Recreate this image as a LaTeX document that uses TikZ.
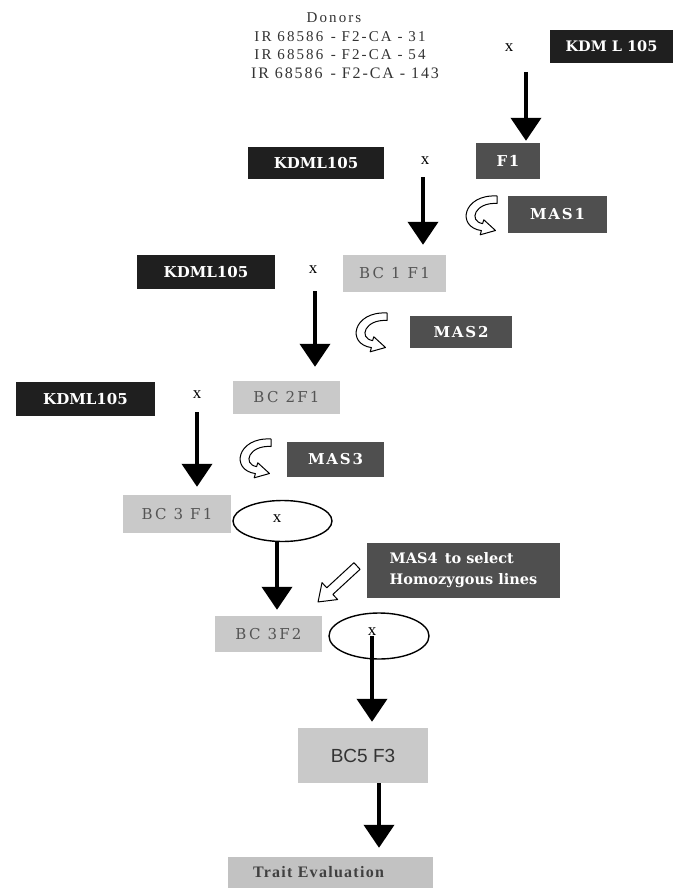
\documentclass[tikz,border=0pt]{standalone}
\usepackage{fontspec}
\setmainfont{Liberation Serif}
\newfontfamily\boxfont{DejaVu Serif}
\newfontfamily\sansfnt{Liberation Sans}
\usetikzlibrary{arrows.meta,shapes.geometric}
\definecolor{darkA}{gray}{0.12}
\definecolor{darkB}{gray}{0.31}
\definecolor{lightA}{gray}{0.79}
\definecolor{lightB}{gray}{0.76}
\definecolor{ltxt}{gray}{0.33}
\begin{document}
\begin{tikzpicture}[x=1pt,y=-1pt,
  box/.style 2 args={rectangle, inner sep=0pt, minimum width=#1pt, minimum height=#2pt},
  kdml/.style={fill=darkA, text=white, font={\boxfont\bfseries\fontsize{15}{17}\selectfont}},
  darkbox/.style={fill=darkB, text=white, font={\boxfont\bfseries\fontsize{15}{17}\selectfont\addfontfeature{LetterSpace=12}}},
  bc/.style={fill=lightA, text=ltxt, font={\boxfont\fontsize{15}{17}\selectfont\addfontfeature{LetterSpace=15}}},
  donor/.style={inner sep=0pt, text=black!80, font={\fontsize{15}{17}\selectfont\addfontfeature{LetterSpace=14}}},
  crossx/.style={inner sep=0pt, font={\fontsize{17}{19}\selectfont}},
  bigarrow/.style={line width=4pt, -{Triangle[width=30pt 0 0,length=23pt 0 0]}},
  oval/.style={ellipse, draw, line width=1.4pt, fill=white, inner sep=0pt},
  hollow/.style={draw=black, fill=white, line width=1pt, line join=round},
  curvearrow/.pic={
    \path[hollow] (35,1) -- (35,8.5)
      .. controls (13,7) and (6,26) .. (20.6,28.6)
      -- (21.8,24.8) -- (33.5,35.5) -- (18.2,39.8) -- (19.4,35.6)
      .. controls (-6,32) and (1,-1) .. (35,1) -- cycle;
  }
]
\fill[white] (0,0) rectangle (678,888);
\useasboundingbox (0,0) rectangle (678,888);

% donors
\node[donor] (don0) at (334,18) {Donors};
\node[donor] (don1) at (340,37) {IR 68586\enspace- F2-CA - 31};
\node[donor] (don2) at (340,55) {IR 68586\enspace- F2-CA - 54};
\node[donor, font={\fontsize{16}{18}\selectfont\addfontfeature{LetterSpace=12}}] (don3) at (345,73) {IR 68586\enspace- F2-CA - 143};

\node[crossx] (x1) at (509,48) {x};
\node[box={123}{33}, kdml, font={\boxfont\bfseries\fontsize{14.5}{17}\selectfont}] (k0) at (611.5,46.5) {KDM L 105};
\node[box={64}{36}, darkbox] (f1) at (508,161) {F1};

\node[box={136}{32}, kdml] (k1) at (316,163) {KDML105};
\node[crossx] (x2) at (425,161) {x};
\node[box={99}{37}, darkbox] (mas1) at (557.5,214.5) {MAS1};

\node[box={138}{34}, kdml] (k2) at (206,272) {KDML105};
\node[crossx] (x3) at (313,270) {x};
\node[box={103}{37}, bc] (bc1) at (394.5,273.5) {BC 1 F1};
\node[box={102}{32}, darkbox] (mas2) at (461,332) {MAS2};

\node[box={139}{34}, kdml] (k3) at (85.5,399) {KDML105};
\node[crossx] (x4) at (197,395) {x};
\node[box={107}{33}, bc] (bc2) at (286.5,397.5) {BC 2F1};
\node[box={97}{35}, darkbox] (mas3) at (335.5,459.5) {MAS3};

\node[box={108}{38}, bc] (bc3) at (177,514) {BC 3 F1};
\node[oval, minimum width=99pt, minimum height=41pt] (o1) at (282.5,521) {};
\node[crossx] (x5) at (277,519) {x};

\node[box={193}{55}, darkbox, align=left, font={\boxfont\bfseries\fontsize{14.5}{21}\selectfont}] (mas4) at (463.5,570.5) {MAS4\enspace to select\\Homozygous lines};

\node[box={107}{36}, bc] (bc4) at (268.5,634) {BC 3F2};
\node[oval, minimum width=100pt, minimum height=46pt] (o2) at (379,636) {};
\node[crossx] (x6) at (372,632) {x};

\node[box={130}{55}, fill=lightA, text=black!80, font={\sansfnt\fontsize{19}{21}\selectfont}] (bc5) at (363,755.5) {BC5 F3};
\node[box={205}{33}, fill=lightB] (trait) at (330.5,873.5) {};
\node[inner sep=0pt, text=black!75, font={\bfseries\fontsize{16}{18}\selectfont\addfontfeature{LetterSpace=8}}] (traitt) at (318.5,872) {Trait Evaluation};

% main arrows
\coordinate (a1) at (526,72);
\draw[bigarrow, shorten >=2pt] (a1) -- (a1 |- f1.north);
\coordinate (a2) at (423,177);
\draw[bigarrow, shorten >=10pt] (a2) -- (a2 |- bc1.north);
\coordinate (a3) at (315,291);
\draw[bigarrow, shorten >=14pt] (a3) -- (a3 |- bc2.north);
\coordinate (a4) at (197,412);
\draw[bigarrow, shorten >=8pt] (a4) -- (a4 |- bc3.north);
\draw[bigarrow, shorten >=6pt] (x5 |- o1.south) -- (x5 |- bc4.north);
\draw[bigarrow, shorten >=6pt] (x6.south) -- (x6 |- bc5.north);
\coordinate (a7) at (379,783);
\draw[bigarrow, shorten >=9pt] (a7) -- (a7 |- trait.north);

% curved MAS arrows
\pic at (462,195) {curvearrow};
\pic at (352,312) {curvearrow};
\pic at (236,438) {curvearrow};

% hollow arrow from MAS4
\begin{scope}[shift={(357,566)}, rotate=222.7]
  \path[hollow] (0,4.5) -- (37,4.5) -- (37,11.5) -- (53,0) -- (37,-11.5) -- (37,-4.5) -- (0,-4.5) -- cycle;
\end{scope}
\end{tikzpicture}
\end{document}
